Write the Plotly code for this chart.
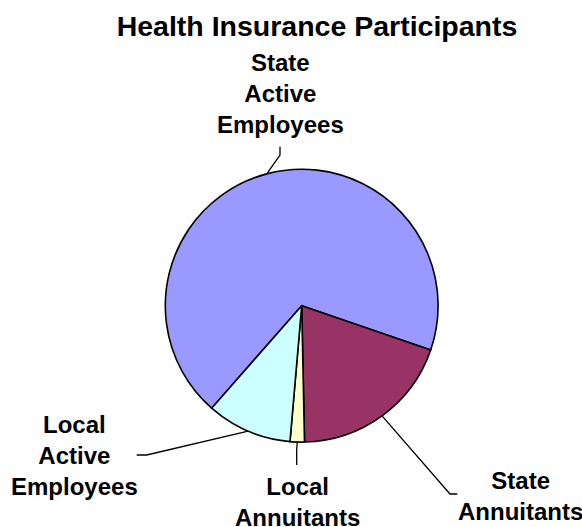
import math
import plotly.graph_objects as go

# ---- data ----
categories = ["State Active Employees", "State Annuitants", "Local Annuitants", "Local Active Employees"]
shares = [68.8, 19.4, 1.7, 10.1]
label_texts = ["State<br>Active<br>Employees", "State<br>Annuitants", "Local<br>Annuitants", "Local<br>Active<br>Employees"]
colors = ["#9999FF", "#993366", "#FFFFCC", "#CCFFFF"]

# ---- layout geometry (pixels) ----
W, H = 582, 527
CX, CY, R = 301.7, 305.7, 136.4
START = 221.3  # degrees clockwise from 12 o'clock where first slice starts

def px(x):
    return x / W

def py(y):
    return 1 - y / H

fig = go.Figure(go.Pie(
    labels=categories,
    values=shares,
    sort=False,
    direction="clockwise",
    rotation=START,
    textinfo="none",
    marker=dict(colors=colors, line=dict(color="black", width=1.6)),
    domain=dict(x=[px(CX - R), px(CX + R)], y=[py(CY + R), py(CY - R)]),
    showlegend=False,
))

# label placement: elbow points and label centres (pixels)
elbows = [
    [(280, 155), (280, 146.7)],
    [(450, 494), (457.3, 494)],
    [(296.7, 450), (296.7, 465)],
    [(146.7, 455), (136.7, 455)],
]
label_pos = [(280, 94), (520, 496), (297.5, 501.5), (74, 455)]

total = sum(shares)
acc = 0.0
shapes = []
annotations = []
for i, v in enumerate(shares):
    mid = START + (acc + v / 2) / total * 360
    acc += v
    a = math.radians(mid)
    ex = CX + R * math.sin(a)
    ey = CY - R * math.cos(a)
    pts = [(ex, ey)] + elbows[i]
    path = "M " + " L ".join(f"{px(x)},{py(y)}" for x, y in pts)
    shapes.append(dict(type="path", xref="paper", yref="paper", path=path,
                       line=dict(color="black", width=1.3)))
    lx, ly = label_pos[i]
    annotations.append(dict(x=px(lx), y=py(ly), xref="paper", yref="paper",
                            text=label_texts[i], showarrow=False,
                            xanchor="center", yanchor="middle", align="center",
                            font=dict(family="Liberation Sans", size=24, color="black", weight="bold")))

fig.update_layout(
    width=W, height=H, autosize=False,
    margin=dict(l=0, r=0, t=0, b=0),
    paper_bgcolor="white", plot_bgcolor="white",
    title=dict(text="Health Insurance Participants", x=px(317), y=py(26),
               xanchor="center", yanchor="middle",
               font=dict(family="Liberation Sans", size=28.5, color="black", weight="bold")),
    shapes=shapes,
    annotations=annotations,
)

fig.write_html("out.html", config={"displayModeBar": False},
               post_script="document.body.style.margin='0';document.body.style.overflow='hidden';")
